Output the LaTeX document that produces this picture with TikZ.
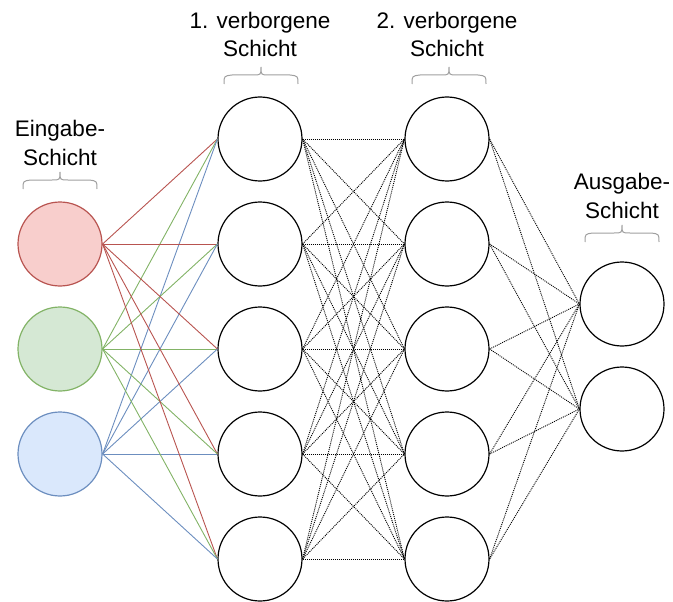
\documentclass[tikz,border=0pt]{standalone}
\usepackage{fontspec}
\setmainfont{Liberation Sans}
\definecolor{redline}{HTML}{B85450}
\definecolor{redfill}{HTML}{F8CECC}
\definecolor{greenline}{HTML}{82B366}
\definecolor{greenfill}{HTML}{D5E8D4}
\definecolor{blueline}{HTML}{6C8EBF}
\definecolor{bluefill}{HTML}{DAE8FC}
\definecolor{bracegray}{HTML}{A0A0A0}
\begin{document}
\begin{tikzpicture}[x=1pt,y=-1pt,
  neuron/.style={circle, draw=black, fill=white, line width=1.2pt, minimum size=84pt, inner sep=0pt},
  inred/.style={neuron, draw=redline, fill=redfill},
  ingreen/.style={neuron, draw=greenline, fill=greenfill},
  inblue/.style={neuron, draw=blueline, fill=bluefill},
  weight/.style={line width=0.9pt},
  dotlink/.style={line width=0.9pt, dash pattern=on 1pt off 1pt},
  layerlabel/.style={font=\fontsize{22.5}{28.5}\selectfont, align=center, anchor=base, inner sep=0pt},
  layerbrace/.pic={
    \draw[bracegray, line width=1pt]
      (-37,17) .. controls (-37,9) .. (-29,8) -- (-8,8)
      .. controls (0,8) .. (0,0) .. controls (0,8) .. (8,8) -- (29,8)
      .. controls (37,9) .. (37,17);
  }]
\useasboundingbox (0,0) rectangle (673,602);

% input layer
\node[inred]   (i1) at (60,244) {};
\node[ingreen] (i2) at (60,349) {};
\node[inblue]  (i3) at (60,454) {};

% first hidden layer
\foreach \k/\y in {1/139,2/244,3/349,4/454,5/559}
  \node[neuron] (a\k) at (260,\y) {};

% second hidden layer
\foreach \k/\y in {1/139,2/244,3/349,4/454,5/559}
  \node[neuron] (b\k) at (447,\y) {};

% output layer
\node[neuron] (o1) at (622,304) {};
\node[neuron] (o2) at (622,409) {};

% weights: input -> first hidden
\foreach \k in {1,...,5} {
  \draw[weight, redline]   (i1.east) -- (a\k.west);
  \draw[weight, greenline] (i2.east) -- (a\k.west);
  \draw[weight, blueline]  (i3.east) -- (a\k.west);
}

% weights: first hidden -> second hidden
\foreach \k in {1,...,5}
  \foreach \m in {1,...,5}
    \draw[dotlink] (a\k.east) -- (b\m.west);

% weights: second hidden -> output
\foreach \k in {1,...,5} {
  \draw[dotlink] (b\k.east) -- (o1.west);
  \draw[dotlink] (b\k.east) -- (o2.west);
}

% layer captions (anchored at the baseline of the last line)
\node[layerlabel] (tin)  at (60,165)  {Eingabe-\\Schicht};
\node[layerlabel] (th1)  at (260,57)  {1. verborgene\\Schicht};
\node[layerlabel] (th2)  at (447,57)  {2. verborgene\\Schicht};
\node[layerlabel] (tout) at (622,218) {Ausgabe-\\Schicht};

% braces under the captions
\pic at (60,172)  {layerbrace};
\pic at (261,67)  {layerbrace};
\pic at (449,67)  {layerbrace};
\pic at (622,225) {layerbrace};
\end{tikzpicture}
\end{document}
